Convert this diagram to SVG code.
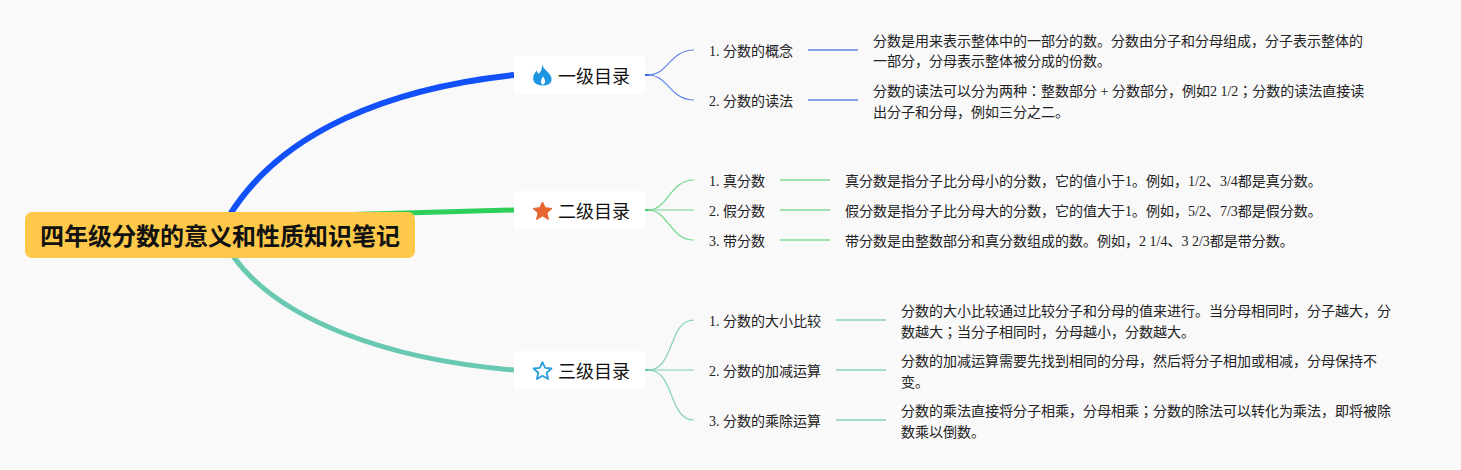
<svg xmlns="http://www.w3.org/2000/svg" width="1461" height="470" viewBox="0 0 1461 470">
<style>
text{font-family:"Liberation Serif","Noto Sans CJK JP",serif;fill:#222;font-size:14px}
.b{font-size:18px;fill:#111}
.r{font-size:24px;font-weight:700;fill:#111;font-family:"Noto Sans CJK JP","Liberation Sans",sans-serif}
.box{fill:#fff}
.s1{stroke:#5f82ea;stroke-width:1.200}.s2{stroke:#72d68c;stroke-width:1.200}.s3{stroke:#80cfba;stroke-width:1.200}
.l1{stroke:#88a0e8;stroke-width:2}.l2{stroke:#a0e2ae;stroke-width:2}.l3{stroke:#a4dccc;stroke-width:2}
</style>
<rect width="1461" height="470" fill="#f9f9fa"/>
<g id="connectors" fill="none">
<path d="M229 216C282 130 392 88 514 75" stroke="#1250fa" stroke-width="6"/>
<path d="M300 216L514 210" stroke="#2ecf58" stroke-width="5"/>
<path d="M233 256C280 322 392 360 514 370" stroke="#68c8b2" stroke-width="5"/>
<path d="M645 75H650" stroke="#3a68ee" stroke-width="2"/>
<path class="s1" d="M648 75C668 75 670 50 694 50"/><path class="s1" d="M648 75C668 75 670 100 694 100"/>
<path class="l1" d="M808 50H858"/><path class="l1" d="M808 100H858"/>
<path d="M645 210H650" stroke="#3ed068" stroke-width="2"/>
<path class="s2" d="M648 210C668 210 670 180 694 180"/><path class="s2" d="M648 210H694"/><path class="s2" d="M648 210C668 210 670 240 694 240"/>
<path class="l2" d="M780 180H830"/><path class="l2" d="M780 210H830"/><path class="l2" d="M780 240H830"/>
<path d="M645 370H650" stroke="#68c8b2" stroke-width="2"/>
<path class="s3" d="M648 370C675 370 668 320 694 320"/><path class="s3" d="M648 370H694"/><path class="s3" d="M648 370C675 370 668 420 694 420"/>
<path class="l3" d="M836 320H886"/><path class="l3" d="M836 370H886"/><path class="l3" d="M836 420H886"/>
</g>
<g id="root"><rect x="25" y="212" width="390" height="46" rx="7" fill="#fec94a"/><text class="r" x="220" y="245" text-anchor="middle">四年级分数的意义和性质知识笔记</text></g>
<g id="n1"><rect class="box" x="514" y="56" width="131" height="38" rx="3"/>
<path d="M542 64C543 69 548 71 550.500 75.500C553 80 551.500 85.500 543 85.500C535 85.500 532 81 533.500 76C534.200 73.500 535.500 72.500 536.500 70.500C537.300 72 537.800 73 538.500 74C541 71.500 542.500 68.500 542 64Z" fill="#1f96e0"/><path d="M543 84.500C540.500 84 540 80.500 543 76.500C546 80.500 545.500 84 543 84.500Z" fill="#fff"/>
<text class="b" x="558" y="83">一级目录</text></g>
<g id="n2"><rect class="box" x="514" y="191" width="131" height="38" rx="3"/>
<path d="M542.500 202L545.300 207.700 552 208.500 546.900 212.900 548.500 219.500 542.500 216 536.500 219.500 538.100 212.900 533 208.500 539.700 207.700Z" fill="#e5662f" stroke="#e5662f" stroke-linejoin="round"/>
<text class="b" x="558" y="218">二级目录</text></g>
<g id="n3"><rect class="box" x="514" y="351" width="131" height="38" rx="3"/>
<path d="M542.500 362L545.100 367.800 551.500 368.500 546.700 372.700 548.100 379 542.500 375.700 536.900 379 538.300 372.700 533.500 368.500 539.900 367.800Z" fill="#fff" stroke="#2a9fe0" stroke-width="1.800" stroke-linejoin="round"/>
<text class="b" x="558" y="378">三级目录</text></g>
<g id="n1-1"><text x="709" y="56">1. 分数的概念</text></g>
<g id="n1-2"><text x="709" y="106">2. 分数的读法</text></g>
<g id="d1-1"><text x="873" y="46">分数是用来表示整体中的一部分的数。分数由分子和分母组成，分子表示整体的</text><text x="873" y="66">一部分，分母表示整体被分成的份数。</text></g>
<g id="d1-2"><text x="873" y="96">分数的读法可以分为两种：整数部分 + 分数部分，例如2 1/2；分数的读法直接读</text><text x="873" y="117">出分子和分母，例如三分之二。</text></g>
<g id="n2-1"><text x="709" y="186">1. 真分数</text></g>
<g id="n2-2"><text x="709" y="216">2. 假分数</text></g>
<g id="n2-3"><text x="709" y="246">3. 带分数</text></g>
<g id="d2-1"><text x="845" y="186">真分数是指分子比分母小的分数，它的值小于1。例如，1/2、3/4都是真分数。</text></g>
<g id="d2-2"><text x="845" y="216">假分数是指分子比分母大的分数，它的值大于1。例如，5/2、7/3都是假分数。</text></g>
<g id="d2-3"><text x="845" y="246">带分数是由整数部分和真分数组成的数。例如，2 1/4、3 2/3都是带分数。</text></g>
<g id="n3-1"><text x="709" y="326">1. 分数的大小比较</text></g>
<g id="n3-2"><text x="709" y="376">2. 分数的加减运算</text></g>
<g id="n3-3"><text x="709" y="426">3. 分数的乘除运算</text></g>
<g id="d3-1"><text x="901" y="316">分数的大小比较通过比较分子和分母的值来进行。当分母相同时，分子越大，分</text><text x="901" y="337">数越大；当分子相同时，分母越小，分数越大。</text></g>
<g id="d3-2"><text x="901" y="366">分数的加减运算需要先找到相同的分母，然后将分子相加或相减，分母保持不</text><text x="901" y="387">变。</text></g>
<g id="d3-3"><text x="901" y="416">分数的乘法直接将分子相乘，分母相乘；分数的除法可以转化为乘法，即将被除</text><text x="901" y="437">数乘以倒数。</text></g>
</svg>
